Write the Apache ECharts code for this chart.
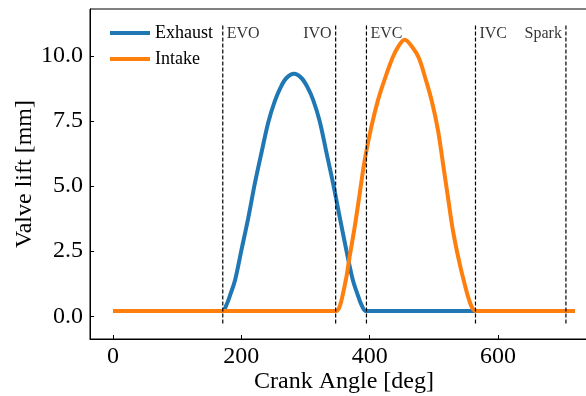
<!DOCTYPE html>
<html>
<head>
<meta charset="utf-8">
<script src="https://cdn.jsdelivr.net/npm/echarts@6/dist/echarts.min.js"></script>
<style>html,body{margin:0;padding:0;background:#fff;}#c{width:586px;height:396px;}</style>
</head>
<body>
<div id="c"></div>
<script>
// ---- data ----
const exhaustAngle = [0, 165, 171, 177, 183, 190, 200, 211, 221, 231.5, 242, 252, 261, 270, 282, 294, 304, 312, 322, 332.5, 343, 353.3, 363.7, 374, 381, 387, 394, 400, 720];
const exhaustLift  = [0.2, 0.2, 0.2, 0.45, 0.85, 1.37, 2.53, 3.81, 5.1, 6.3, 7.45, 8.25, 8.78, 9.14, 9.31, 9.14, 8.75, 8.3, 7.5, 6.3, 5.1, 3.81, 2.53, 1.37, 0.85, 0.45, 0.2, 0.2, 0.2];
const intakeAngle  = [0, 341, 347, 352, 356, 363.7, 367.8, 376.7, 384.5, 392.3, 402.7, 413, 423.4, 435.4, 443.2, 454.6, 467.5, 476.9, 487.3, 497, 506.5, 514.3, 522, 529.8, 540.3, 550.7, 556, 560, 565, 571, 720];
const intakeLift   = [0.2, 0.2, 0.2, 0.3, 0.6, 1.5, 2.14, 3.43, 4.71, 6.0, 7.28, 8.3, 9.1, 9.91, 10.3, 10.62, 10.3, 9.91, 9.1, 8.25, 7.15, 5.87, 4.58, 3.3, 2.02, 0.99, 0.55, 0.32, 0.2, 0.2, 0.2];
const eventNames   = ['EVO', 'IVO', 'EVC', 'IVC', 'Spark'];
const eventAngles  = [171, 347, 395, 565, 706];
const eventSpan    = [-0.28, 11.23];
const eventLabelY  = 10.85;
const xTicks = [0, 200, 400, 600];
const yTicks = [0, 2.5, 5, 7.5, 10];
const xRange = [-36, 756];
const yRange = [-0.875, 11.8];

// ---- build ----
const FONT = 'Liberation Serif';
const labelSide = {EVO: 'right', IVO: 'left', EVC: 'right', IVC: 'right', Spark: 'left'};
const pairs = (xs, ys) => xs.map((x, i) => [x, ys[i]]);

const series = [
  {
    name: 'Exhaust', type: 'line', data: pairs(exhaustAngle, exhaustLift),
    showSymbol: false, smooth: 0.35, lineStyle: {color: '#1f77b4', width: 4}, itemStyle: {color: '#1f77b4'}, z: 2
  },
  {
    name: 'Intake', type: 'line', data: pairs(intakeAngle, intakeLift),
    showSymbol: false, smooth: 0.35, lineStyle: {color: '#ff7f0e', width: 4}, itemStyle: {color: '#ff7f0e'}, z: 3
  }
];
eventAngles.forEach((a, i) => {
  series.push({
    name: 'ev_' + eventNames[i], type: 'line', data: [[a, eventSpan[0]], [a, eventSpan[1]]],
    showSymbol: false, silent: true, z: 4,
    lineStyle: {color: '#000', width: 1.2, type: [4, 2]}
  });
});
series.push({
  name: 'evLabels', type: 'scatter', symbolSize: 0, silent: true, z: 5,
  data: eventNames.map((n, i) => ({
    name: n, value: [eventAngles[i], eventLabelY],
    label: {position: labelSide[n]}
  })),
  label: {show: true, formatter: p => p.name, distance: 4, color: '#000', fontFamily: FONT, fontSize: 16}
});

const chart = echarts.init(document.getElementById('c'), null, {renderer: 'canvas'});
chart.setOption({
  animation: false,
  backgroundColor: '#fff',
  grid: {left: 90, top: 9, width: 508, height: 330, outerBoundsMode: 'none', containLabel: false,
         show: true, borderColor: '#000', borderWidth: 1, backgroundColor: 'transparent'},
  legend: {
    data: ['Exhaust', 'Intake'], orient: 'vertical', left: 105, top: 18,
    itemWidth: 40, itemHeight: 4, itemGap: 6, icon: 'rect',
    textStyle: {fontFamily: FONT, fontSize: 18, color: '#000', lineHeight: 20}
  },
  xAxis: {
    type: 'value', min: xRange[0], max: xRange[1],
    name: 'Crank Angle [deg]', nameLocation: 'middle', nameGap: 31, nameMoveOverlap: false,
    nameTextStyle: {fontFamily: FONT, fontSize: 24, color: '#000'},
    axisLine: {show: true, onZero: false, lineStyle: {color: '#000', width: 1}},
    axisTick: {show: true, inside: true, length: 4, customValues: xTicks, lineStyle: {color: '#000'}},
    axisLabel: {customValues: xTicks, margin: 6, fontFamily: FONT, fontSize: 24, color: '#000', formatter: v => String(Math.round(v))},
    splitLine: {show: false}
  },
  yAxis: {
    type: 'value', min: yRange[0], max: yRange[1],
    name: 'Valve lift [mm]', nameLocation: 'middle', nameGap: 53, nameRotate: 90, nameMoveOverlap: false,
    nameTextStyle: {fontFamily: FONT, fontSize: 24, color: '#000'},
    axisLine: {show: true, onZero: false, lineStyle: {color: '#000', width: 1}},
    axisTick: {show: true, inside: true, length: 4, customValues: yTicks, lineStyle: {color: '#000'}},
    axisLabel: {customValues: yTicks, margin: 7, fontFamily: FONT, fontSize: 24, color: '#000', formatter: v => v.toFixed(1)},
    splitLine: {show: false}
  },
  series: series
});
</script>
</body>
</html>
